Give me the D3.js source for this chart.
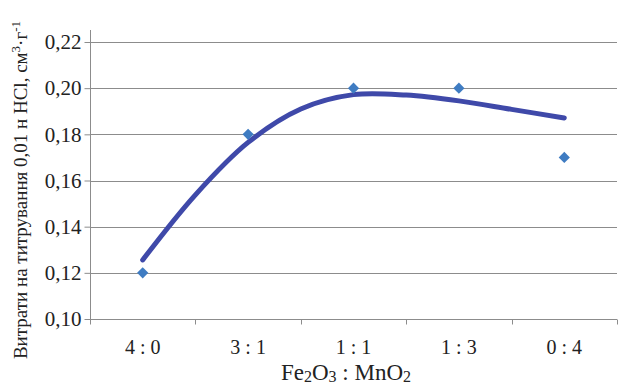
<!DOCTYPE html>
<html>
<head>
<meta charset="utf-8">
<script src="https://cdn.jsdelivr.net/npm/d3@7"></script>
<style>
  html, body { margin: 0; padding: 0; background: #fff; }
  svg text { font-family: "Liberation Serif", "Times New Roman", serif; fill: #222; }
</style>
</head>
<body>
<div id="chart"></div>
<script>
// Data
const categories = ['4 : 0', '3 : 1', '1 : 1', '1 : 3', '0 : 4'];
const measured = [0.12, 0.18, 0.20, 0.20, 0.17];
// trend line, read at half-category steps
const trendIndex = [0, 0.5, 1, 1.5, 2, 2.5, 3, 3.5, 4];
const trendValues = [0.1256, 0.1538, 0.1765, 0.1910, 0.1972, 0.1970, 0.1945, 0.1908, 0.1871];
const yTicks = [0.10, 0.12, 0.14, 0.16, 0.18, 0.20, 0.22];

const width = 619, height = 385;
const plot = {left: 90, right: 617, top: 42, bottom: 319};
const serif = '"Liberation Serif", "Times New Roman", serif';

const svg = d3.select('#chart')
    .append('svg')
    .attr('width', width)
    .attr('height', height);

// Scales
const x = d3.scaleBand()
    .domain(categories)
    .range([plot.left, plot.right]);

const xi = d3.scaleLinear()
    .domain([0, categories.length - 1])
    .range([x(categories[0]) + x.bandwidth() / 2, x(categories[categories.length - 1]) + x.bandwidth() / 2]);

const y = d3.scaleLinear()
    .domain([0.10, 0.22])
    .range([plot.bottom, plot.top]);

const fmt = d => d.toFixed(2).replace('.', ',');

// Gridlines
svg.append('g')
    .selectAll('line')
    .data(yTicks.slice(1))
    .enter()
    .append('line')
    .attr('x1', plot.left)
    .attr('x2', plot.right)
    .attr('y1', d => Math.round(y(d)) + 0.5)
    .attr('y2', d => Math.round(y(d)) + 0.5)
    .attr('stroke', '#8c8c8c')
    .attr('stroke-width', 1);

// Y axis
const yAxis = svg.append('g')
    .attr('transform', `translate(${plot.left + 0.5},0)`)
    .call(d3.axisLeft(y).tickValues(yTicks).tickFormat(fmt).tickSize(6).tickPadding(3));
yAxis.select('.domain').remove();
yAxis.append('line')
    .attr('y1', 30)
    .attr('y2', plot.bottom)
    .attr('stroke', '#8c8c8c');
yAxis.selectAll('.tick line').attr('stroke', '#8c8c8c');
yAxis.selectAll('.tick text')
    .attr('fill', '#222')
    .style('font-family', serif)
    .style('font-size', '21px');

// X axis
const xAxis = svg.append('g')
    .attr('transform', `translate(0,${plot.bottom + 0.5})`)
    .call(d3.axisBottom(x).tickSize(0).tickPadding(20));
xAxis.select('.domain')
    .attr('stroke', '#8c8c8c')
    .attr('d', `M${plot.left},0H${plot.right}`);
xAxis.selectAll('.tick text')
    .attr('fill', '#222')
    .style('font-family', serif)
    .style('font-size', '20px');
// category boundary ticks
xAxis.append('g')
    .selectAll('line')
    .data(d3.range(categories.length + 1))
    .enter()
    .append('line')
    .attr('x1', i => Math.round(plot.left + i * x.step()) + 0.5)
    .attr('x2', i => Math.round(plot.left + i * x.step()) + 0.5)
    .attr('y1', 0)
    .attr('y2', 5)
    .attr('stroke', '#8c8c8c');

// Trend line
const line = d3.line()
    .x((d, i) => xi(trendIndex[i]))
    .y(d => y(d))
    .curve(d3.curveCatmullRom);

svg.append('path')
    .datum(trendValues)
    .attr('fill', 'none')
    .attr('stroke', '#3f49a9')
    .attr('stroke-width', 5)
    .attr('stroke-linecap', 'round')
    .attr('d', line);

// Markers
svg.append('g')
    .selectAll('path')
    .data(measured)
    .enter()
    .append('path')
    .attr('transform', (d, i) => `translate(${x(categories[i]) + x.bandwidth() / 2},${y(d)})`)
    .attr('d', d3.symbol().type(d3.symbolDiamond2).size(80))
    .attr('fill', '#3f7cc2');

// Axis titles
const xt = svg.append('text')
    .attr('x', 346)
    .attr('y', 380)
    .attr('text-anchor', 'middle')
    .style('font-family', serif)
    .style('font-size', '23px');
xt.append('tspan').text('Fe');
xt.append('tspan').text('2').attr('font-size', '16px').attr('dy', 2);
xt.append('tspan').text('O').attr('dy', -2);
xt.append('tspan').text('3').attr('font-size', '16px').attr('dy', 2);
xt.append('tspan').text(' : MnO').attr('dy', -2);
xt.append('tspan').text('2').attr('font-size', '16px').attr('dy', 2);

const yt = svg.append('text')
    .attr('transform', 'translate(27,190) rotate(-90)')
    .attr('text-anchor', 'middle')
    .style('font-family', serif)
    .style('font-size', '19px');
yt.append('tspan').text('Витрати на титрування 0,01 н HCl, см');
yt.append('tspan').text('3').attr('font-size', '13px').attr('dy', -7);
yt.append('tspan').text('·г').attr('dy', 7);
yt.append('tspan').text('-1').attr('font-size', '13px').attr('dy', -7);
</script>
</body>
</html>
